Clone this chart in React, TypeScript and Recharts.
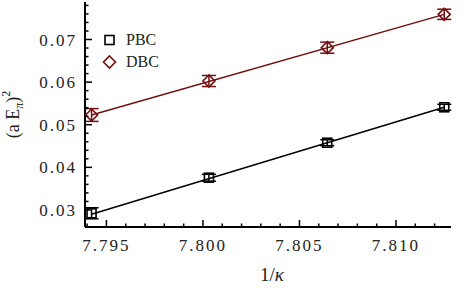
import React from 'react';
import { ComposedChart, Scatter, XAxis, YAxis, ErrorBar, Legend } from 'recharts';

const kappaInv = [7.79423, 7.80031, 7.80644, 7.8125];
const pbcValues = [0.02922, 0.03757, 0.04578, 0.05409];
const pbcErrors = [0.0013, 0.0008, 0.0007, 0.0007];
const dbcValues = [0.05228, 0.06026, 0.06808, 0.07591];
const dbcErrors = [0.0015, 0.0013, 0.0013, 0.0012];
const pbcFit = [0.0290, 0.0541];
const dbcFit = [0.0523, 0.0759];

const xMajorTicks = [7.795, 7.8, 7.805, 7.81];
const xAllTicks = [7.794, 7.795, 7.796, 7.797, 7.798, 7.799, 7.8, 7.801, 7.802, 7.803, 7.804, 7.805, 7.806, 7.807, 7.808, 7.809, 7.81, 7.811, 7.812];
const xTickLabels = ['7.795', '7.800', '7.805', '7.810'];
const yMajorTicks = [0.03, 0.04, 0.05, 0.06, 0.07];
const yAllTicks = [0.026, 0.028, 0.03, 0.032, 0.034, 0.036, 0.038, 0.04, 0.042, 0.044, 0.046, 0.048, 0.05, 0.052, 0.054, 0.056, 0.058, 0.06, 0.062, 0.064, 0.066, 0.068, 0.07, 0.072, 0.074, 0.076, 0.078];
const yTickLabels = ['0.03', '0.04', '0.05', '0.06', '0.07'];

const RED = '#700e0e';
const FONT = '"Liberation Serif", "DejaVu Serif", serif';

const pbcData = kappaInv.map((x, i) => ({ x, y: pbcValues[i], err: pbcErrors[i] }));
const dbcData = kappaInv.map((x, i) => ({ x, y: dbcValues[i], err: dbcErrors[i] }));
const pbcFitData = [
  { x: kappaInv[0], y: pbcFit[0] },
  { x: kappaInv[3], y: pbcFit[1] },
];
const dbcFitData = [
  { x: kappaInv[0], y: dbcFit[0] },
  { x: kappaInv[3], y: dbcFit[1] },
];

const majorIndex = (arr: number[], v: number) => arr.findIndex((m) => Math.abs(m - v) < 1e-7);

const BottomTick = (props: any) => {
  const { x, y, payload } = props;
  const idx = majorIndex(xMajorTicks, payload.value);
  const len = idx >= 0 ? 7 : 3.5;
  return (
    <g>
      <line x1={x} x2={x} y1={y} y2={y - len} stroke="#000" strokeWidth={1.5} />
      {idx >= 0 && (
        <text x={x} y={y + 24} textAnchor="middle" fontFamily={FONT} fontSize={17} letterSpacing={2} fill="#222">
          {xTickLabels[idx]}
        </text>
      )}
    </g>
  );
};

const TopTick = (props: any) => {
  const { x, y, payload } = props;
  const idx = majorIndex(xMajorTicks, payload.value);
  const len = idx >= 0 ? 7 : 3.5;
  return <line x1={x} x2={x} y1={y} y2={y + len} stroke="#000" strokeWidth={1.5} />;
};

const LeftTick = (props: any) => {
  const { x, y, payload } = props;
  const idx = majorIndex(yMajorTicks, payload.value);
  const len = idx >= 0 ? 7 : 3.5;
  return (
    <g>
      <line x1={x} x2={x + len} y1={y} y2={y} stroke="#000" strokeWidth={1.5} />
      {idx >= 0 && (
        <text x={x - 8} y={y + 6} textAnchor="end" fontFamily={FONT} fontSize={17} letterSpacing={2} fill="#222">
          {yTickLabels[idx]}
        </text>
      )}
    </g>
  );
};

const RightTick = (props: any) => {
  const { x, y, payload } = props;
  const idx = majorIndex(yMajorTicks, payload.value);
  const len = idx >= 0 ? 7 : 3.5;
  return <line x1={x} x2={x - len} y1={y} y2={y} stroke="#000" strokeWidth={1.5} />;
};

const SquareShape = (props: any) => {
  const { cx, cy } = props;
  return <rect x={cx - 4.5} y={cy - 4.5} width={9} height={9} fill="none" stroke="#000" strokeWidth={1.6} />;
};

const DiamondShape = (props: any) => {
  const { cx, cy } = props;
  const r = 6;
  return (
    <polygon
      points={`${cx},${cy - r} ${cx + r},${cy} ${cx},${cy + r} ${cx - r},${cy}`}
      fill="none"
      stroke={RED}
      strokeWidth={1.6}
    />
  );
};

const NoShape = () => <g />;

const LegendContent = () => (
  <div style={{ fontFamily: FONT, fontSize: 16, color: '#222', lineHeight: '22px' }}>
    <div style={{ display: 'flex', alignItems: 'center' }}>
      <svg width={16} height={22}>
        <rect x={3} y={6.5} width={9} height={9} fill="none" stroke="#000" strokeWidth={1.6} />
      </svg>
      <span style={{ marginLeft: 8 }}>PBC</span>
    </div>
    <div style={{ display: 'flex', alignItems: 'center' }}>
      <svg width={16} height={22}>
        <polygon points="7.5,5 13.5,11 7.5,17 1.5,11" fill="none" stroke={RED} strokeWidth={1.6} />
      </svg>
      <span style={{ marginLeft: 8 }}>DBC</span>
    </div>
  </div>
);

const YLabel = (props: any) => {
  const vb = props.viewBox || { x: 0, y: 0, width: 85, height: 225 };
  const cx = vb.x + 19;
  const cy = vb.y + vb.height / 2;
  return (
    <text
      x={cx}
      y={cy}
      transform={`rotate(-90, ${cx}, ${cy})`}
      textAnchor="middle"
      fontFamily={FONT}
      fontSize={18}
      fill="#222"
    >
      <tspan>(a E</tspan>
      <tspan fontSize={12} fontStyle="italic" dy={4}>π</tspan>
      <tspan dy={-4}>)</tspan>
      <tspan fontSize={12} dy={-9}>2</tspan>
    </text>
  );
};

const XLabel = (props: any) => {
  const vb = props.viewBox || { x: 85, y: 227, width: 366, height: 65 };
  const cx = vb.x + vb.width / 2 + 4;
  return (
    <text x={cx} y={vb.y + 54} textAnchor="middle" fontFamily={FONT} fontSize={19} fill="#222">
      1/<tspan fontStyle="italic">κ</tspan>
    </text>
  );
};

export default function App() {
  return (
    <div style={{ position: 'absolute', left: 0, top: 0 }}>
      <ComposedChart width={471} height={292} margin={{ top: 2, right: 20, bottom: 0, left: 0 }}>
        <XAxis
          xAxisId="b"
          type="number"
          dataKey="x"
          domain={[7.79389, 7.81285]}
          ticks={xAllTicks}
          interval={0}
          allowDataOverflow
          orientation="bottom"
          height={65}
          tickSize={0}
          tickMargin={0}
          tickLine={false}
          tick={<BottomTick />}
          axisLine={{ stroke: '#000', strokeWidth: 2 }}
          label={<XLabel />}
        />
        <XAxis
          xAxisId="t"
          type="number"
          dataKey="x"
          domain={[7.79389, 7.81285]}
          ticks={xAllTicks}
          interval={0}
          allowDataOverflow
          orientation="top"
          height={0}
          tickSize={0}
          tickMargin={0}
          tickLine={false}
          tick={<TopTick />}
          axisLine={{ stroke: '#000', strokeWidth: 2 }}
        />
        <YAxis
          yAxisId="l"
          type="number"
          dataKey="y"
          domain={[0.026, 0.0788]}
          ticks={yAllTicks}
          interval={0}
          allowDataOverflow
          orientation="left"
          width={85}
          tickSize={0}
          tickMargin={0}
          tickLine={false}
          tick={<LeftTick />}
          axisLine={{ stroke: '#000', strokeWidth: 2 }}
          label={<YLabel />}
        />
        <YAxis
          yAxisId="r"
          type="number"
          dataKey="y"
          domain={[0.026, 0.0788]}
          ticks={yAllTicks}
          interval={0}
          allowDataOverflow
          orientation="right"
          width={0}
          tickSize={0}
          tickMargin={0}
          tickLine={false}
          tick={<RightTick />}
          axisLine={{ stroke: '#000', strokeWidth: 2 }}
        />
        <Legend
          layout="vertical"
          align="center"
          verticalAlign="middle"
          content={<LegendContent />}
          wrapperStyle={{ position: 'absolute', left: 102, top: 29, width: 80 }}
        />
        <Scatter
          name="PBC fit"
          data={pbcFitData}
          xAxisId="b"
          yAxisId="l"
          line={{ stroke: '#000', strokeWidth: 1.5 }}
          shape={<NoShape />}
          legendType="none"
          isAnimationActive={false}
        />
        <Scatter
          name="DBC fit"
          data={dbcFitData}
          xAxisId="b"
          yAxisId="l"
          line={{ stroke: RED, strokeWidth: 1.5 }}
          shape={<NoShape />}
          legendType="none"
          isAnimationActive={false}
        />
        <Scatter name="PBC" data={pbcData} xAxisId="b" yAxisId="l" shape={<SquareShape />} isAnimationActive={false}>
          <ErrorBar dataKey="err" direction="y" width={7} stroke="#000" strokeWidth={1.5} />
        </Scatter>
        <Scatter name="DBC" data={dbcData} xAxisId="b" yAxisId="l" shape={<DiamondShape />} isAnimationActive={false}>
          <ErrorBar dataKey="err" direction="y" width={7} stroke={RED} strokeWidth={1.5} />
        </Scatter>
      </ComposedChart>
    </div>
  );
}
